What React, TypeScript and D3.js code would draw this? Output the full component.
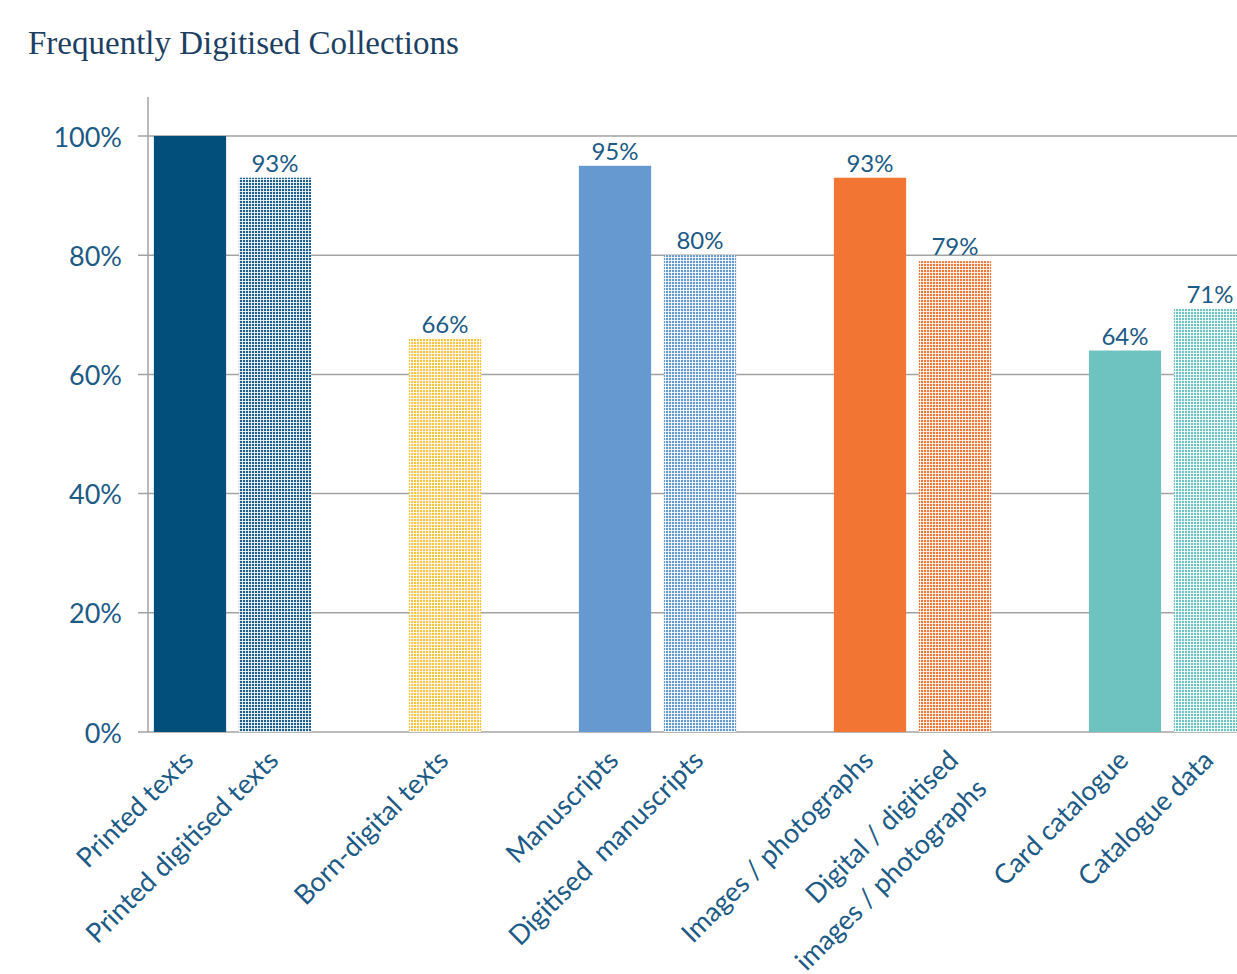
import React from "react";
import * as d3 from "d3";

const TITLE = "Frequently Digitised Collections";
// slot keys: gaps are placeholder keys starting with "_"
const slots = [
  "Printed texts",
  "Printed digitised texts",
  "_gap1",
  "Born-digital texts",
  "_gap2",
  "Manuscripts",
  "Digitised  manuscripts",
  "_gap3",
  "Images / photographs",
  "Digital / digitised|images / photographs",
  "_gap4",
  "Card catalogue",
  "Catalogue data",
];
const categories = slots.filter((s) => !s.startsWith("_"));
const values = [1.0, 0.93, 0.66, 0.95, 0.8, 0.93, 0.79, 0.64, 0.71];
const showLabel = [false, true, true, true, true, true, true, true, true];
const colors = ["#034f7b", "#1d5f8c", "#f6c343", "#6699d0", "#6699d0", "#f37533", "#f37533", "#6ec3c1", "#6ec3c1"];
const patterned = [false, true, true, false, true, false, true, false, true];
const yTicks = [0, 0.2, 0.4, 0.6, 0.8, 1.0];

const W = 1237;
const H = 974;
const textColor = "#1d5a86";

export default function App() {
  const x = d3
    .scaleBand<string>()
    .domain(slots)
    .range([147.5, 1252.5])
    .paddingInner(0.15)
    .paddingOuter(0.075);
  const y = d3.scaleLinear().domain([0, 1]).range([732, 136]);
  const fmt = d3.format(".0%");
  const axisX = 148;

  return (
    <div style={{ position: "absolute", left: 0, top: 0 }}>
      <svg width={W} height={H} style={{ display: "block", background: "#fff" }}>
        <defs>
          {categories.map((c, i) =>
            patterned[i] ? (
              <pattern key={c} id={`pat${i}`} width={3} height={3} patternUnits="userSpaceOnUse">
                <rect width={3} height={3} fill={colors[i]} />
                <rect x={2} y={0} width={1} height={3} fill="#fff" opacity={0.85} />
                <rect x={0} y={2} width={3} height={1} fill="#fff" opacity={0.85} />
              </pattern>
            ) : null
          )}
        </defs>
        <text
          x={28}
          y={54}
          fontFamily="'Liberation Serif', 'DejaVu Serif', serif"
          fontSize={33}
          fill="#1c3f63"
        >
          {TITLE}
        </text>
        {/* gridlines */}
        {yTicks.map((t) => (
          <g key={t}>
            <line x1={axisX - 10} x2={W} y1={y(t)} y2={y(t)} stroke="#a3a3a3" strokeWidth={1.5} />
            <text
              x={122}
              y={y(t)}
              textAnchor="end"
              dominantBaseline="central"
              fontFamily="Lato, sans-serif"
              fontSize={27}
              fill={textColor}
            >
              {fmt(t)}
            </text>
          </g>
        ))}
        <line x1={axisX} x2={axisX} y1={97} y2={732} stroke="#a3a3a3" strokeWidth={1.5} />
        {/* bars */}
        {categories.map((c, i) => {
          const bx = x(c)!;
          const bw = x.bandwidth();
          return (
            <g key={c}>
              <rect
                x={bx}
                y={y(values[i])}
                width={bw}
                height={y(0) - y(values[i])}
                fill={patterned[i] ? `url(#pat${i})` : colors[i]}
              />
              {showLabel[i] && (
                <text
                  x={bx + bw / 2}
                  y={y(values[i]) - 6}
                  textAnchor="middle"
                  fontFamily="Lato, sans-serif"
                  fontSize={24}
                  fill={textColor}
                >
                  {fmt(values[i])}
                </text>
              )}
            </g>
          );
        })}
        {/* x labels */}
        {categories.map((c) => {
          const cx = x(c)! + x.bandwidth() / 2;
          const lines = c.split("|");
          return (
            <text
              key={c}
              transform={`translate(${cx + 5},${762}) rotate(-45)`}
              textAnchor="end"
              fontFamily="Lato, sans-serif"
              fontSize={27}
              fill={textColor}
              style={{ whiteSpace: "pre" }}
            >
              {lines.map((l, k) => (
                <tspan key={k} x={0} dy={k === 0 ? 0 : 40}>
                  {l}
                </tspan>
              ))}
            </text>
          );
        })}
      </svg>
    </div>
  );
}
